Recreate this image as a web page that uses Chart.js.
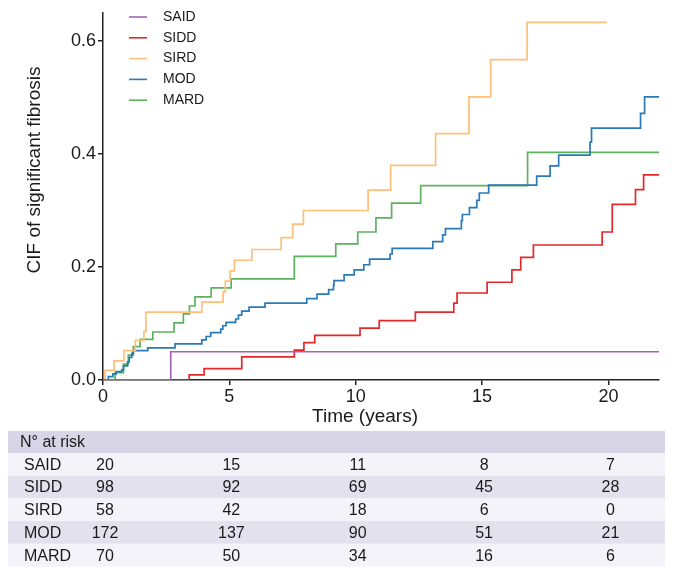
<!DOCTYPE html>
<html>
<head>
<meta charset="utf-8">
<script src="https://cdn.jsdelivr.net/npm/chart.js@4.4.1/dist/chart.umd.min.js"></script>
<style>
  html, body { margin: 0; padding: 0; background: #fff; }
</style>
</head>
<body>
<canvas id="cifChart" width="692" height="575"></canvas>
<script>
// ---------------- data ----------------
const groups = ["SAID", "SIDD", "SIRD", "MOD", "MARD"];
const groupColors = ["#a065b8", "#e4282a", "#fdc07a", "#2a7ab9", "#5cb25d"];

// step times (years) and CIF after each step
const saidT = [0, 2.68, 22];
const saidV = [0, 0.05, 0.05];

const siddT = [0, 3.41, 4.0, 5.49, 7.57, 7.95, 8.38, 10.17, 10.93, 12.36, 13.88, 14.01, 15.2, 16.18, 16.53, 17.03, 19.75, 20.15, 21.07, 21.39, 22];
const siddV = [0, 0.009, 0.020, 0.041, 0.053, 0.066, 0.079, 0.092, 0.105, 0.120, 0.136, 0.154, 0.173, 0.195, 0.217, 0.239, 0.262, 0.311, 0.337, 0.363, 0.363];

const sirdT = [0, 0.08, 0.44, 0.83, 1.28, 1.62, 1.70, 3.91, 4.75, 4.84, 5.03, 5.2, 5.89, 7.05, 7.51, 7.93, 10.49, 11.38, 13.16, 14.48, 15.34, 16.78, 19.93];
const sirdV = [0, 0.017, 0.034, 0.052, 0.070, 0.086, 0.120, 0.138, 0.156, 0.175, 0.193, 0.212, 0.231, 0.252, 0.276, 0.300, 0.336, 0.380, 0.436, 0.501, 0.567, 0.633, 0.633];

const modT = [0, 0.21, 0.39, 0.52, 0.74, 0.81, 0.97, 1.04, 1.14, 1.2, 1.77, 2.85, 3.91, 4.08, 4.26, 4.66, 4.74, 4.87, 5.25, 5.36, 5.49, 5.78, 6.41, 8.06, 8.47, 8.93, 9.12, 9.14, 9.54, 9.94, 10.32, 10.55, 11.36, 11.44, 13.05, 13.44, 13.55, 14.18, 14.22, 14.5, 14.79, 14.89, 15.26, 17.16, 17.69, 18.03, 19.27, 19.33, 21.27, 21.43, 22];
const modV = [0, 0.006, 0.011, 0.015, 0.018, 0.025, 0.032, 0.040, 0.047, 0.052, 0.057, 0.064, 0.071, 0.077, 0.084, 0.090, 0.096, 0.102, 0.108, 0.115, 0.122, 0.129, 0.136, 0.144, 0.152, 0.160, 0.168, 0.176, 0.186, 0.195, 0.204, 0.214, 0.223, 0.233, 0.245, 0.257, 0.268, 0.282, 0.293, 0.305, 0.318, 0.331, 0.345, 0.361, 0.379, 0.398, 0.421, 0.446, 0.472, 0.501, 0.501];

const mardT = [0, 0.48, 0.81, 1.0, 1.2, 1.47, 1.97, 2.81, 3.18, 3.42, 3.64, 4.28, 5.07, 7.57, 9.21, 10.08, 10.8, 11.42, 12.57, 16.8, 22];
const mardV = [0, 0.013, 0.028, 0.044, 0.059, 0.072, 0.085, 0.101, 0.117, 0.131, 0.147, 0.163, 0.179, 0.219, 0.241, 0.262, 0.287, 0.313, 0.344, 0.403, 0.403];

// N° at risk table
const riskTimes = [0, 5, 10, 15, 20];
const riskSAID = [20, 15, 11, 8, 7];
const riskSIDD = [98, 92, 69, 45, 28];
const riskSIRD = [58, 42, 18, 6, 0];
const riskMOD = [172, 137, 90, 51, 21];
const riskMARD = [70, 50, 34, 16, 6];

const xTicks = [0, 5, 10, 15, 20];
const yTicks = [0, 0.2, 0.4, 0.6];
const xTitle = "Time (years)";
const yTitle = "CIF of significant fibrosis";
const riskTitle = "N° at risk";

// ---------------- helpers ----------------
const FONT = "'Liberation Sans', Arial, Helvetica, sans-serif";
const toPoints = (ts, vs) => ts.map((t, i) => ({ x: t, y: vs[i] }));

const seriesT = [saidT, siddT, sirdT, modT, mardT];
const seriesV = [saidV, siddV, sirdV, modV, mardV];
const riskRows = [riskSAID, riskSIDD, riskSIRD, riskMOD, riskMARD];

// titles, legend and risk table drawn on the canvas
const extrasPlugin = {
  id: "extras",
  afterDraw(chart) {
    const { ctx } = chart;
    const x = chart.scales.x;
    ctx.save();

    // axis titles
    ctx.fillStyle = "#1a1a1a";
    ctx.font = "19px " + FONT;
    ctx.textAlign = "center";
    ctx.textBaseline = "middle";
    ctx.fillText(xTitle, 365, 417);
    ctx.save();
    ctx.translate(35, 170);
    ctx.rotate(-Math.PI / 2);
    ctx.fillText(yTitle, 0, 0);
    ctx.restore();

    // legend inside plot
    ctx.font = "14px " + FONT;
    ctx.textAlign = "left";
    groups.forEach((g, i) => {
      const ly = 17 + i * 20.8;
      ctx.strokeStyle = groupColors[i];
      ctx.lineWidth = 1.6;
      ctx.beginPath();
      ctx.moveTo(129, ly);
      ctx.lineTo(147, ly);
      ctx.stroke();
      ctx.fillStyle = "#1a1a1a";
      ctx.fillText(g, 163, ly);
    });

    // N° at risk table
    const left = 8, right = 665, top = 431, headH = 22, rowH = 22.7;
    ctx.fillStyle = "#d8d5e6";
    ctx.fillRect(left, top, right - left, headH);
    riskRows.forEach((row, i) => {
      ctx.fillStyle = i % 2 === 0 ? "#f4f3f9" : "#e3e1ee";
      ctx.fillRect(left, top + headH + i * rowH, right - left, rowH);
    });
    ctx.font = "16px " + FONT;
    ctx.fillStyle = "#1a1a1a";
    ctx.textAlign = "left";
    ctx.fillText(riskTitle, 20, top + headH / 2 + 1);
    riskRows.forEach((row, i) => {
      const cy = top + headH + i * rowH + rowH / 2 + 1;
      ctx.textAlign = "left";
      ctx.fillText(groups[i], 24, cy);
      ctx.textAlign = "center";
      row.forEach((n, j) => {
        ctx.fillText(String(n), x.getPixelForValue(riskTimes[j]) + 2, cy);
      });
    });

    ctx.restore();
  },
};

// ---------------- chart ----------------
const data = {
  datasets: groups.map((g, i) => ({
    label: g,
    data: toPoints(seriesT[i], seriesV[i]),
    borderColor: groupColors[i],
    backgroundColor: groupColors[i],
    borderWidth: 1.7,
    pointRadius: 0,
    stepped: true,
    fill: false,
  })),
};

const config = {
  type: "line",
  data: data,
  options: {
    responsive: false,
    animation: false,
    layout: { padding: { top: 12, right: 33, bottom: 0, left: 0 } },
    plugins: {
      legend: { display: false },
      tooltip: { enabled: false },
    },
    scales: {
      x: {
        type: "linear",
        min: 0,
        max: 22,
        afterFit: (s) => { s.height = 195; },
        afterBuildTicks: (s) => { s.ticks = xTicks.map((v) => ({ value: v })); },
        grid: { display: true, drawOnChartArea: false, drawTicks: true, tickLength: 5, color: "#222", lineWidth: 1.5 },
        border: { display: true, color: "#222", width: 1.5 },
        ticks: { color: "#1a1a1a", font: { family: FONT, size: 18 }, padding: 1, maxRotation: 0 },
      },
      y: {
        min: 0,
        max: 0.65,
        afterFit: (s) => { s.width = 103; },
        afterBuildTicks: (s) => { s.ticks = yTicks.map((v) => ({ value: v })); },
        grid: { display: true, drawOnChartArea: false, drawTicks: true, tickLength: 5, color: "#222", lineWidth: 1.5 },
        border: { display: true, color: "#222", width: 1.5 },
        ticks: {
          color: "#1a1a1a",
          font: { family: FONT, size: 18 },
          padding: 2,
          callback: (v) => v.toFixed(1),
        },
      },
    },
  },
  plugins: [extrasPlugin],
};

new Chart(document.getElementById("cifChart"), config);
</script>
</body>
</html>
